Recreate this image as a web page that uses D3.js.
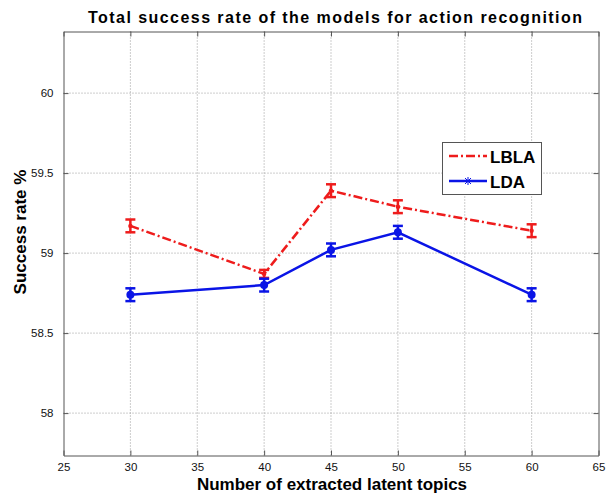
<!DOCTYPE html>
<html>
<head>
<meta charset="utf-8">
<script src="https://cdn.jsdelivr.net/npm/d3@7"></script>
<style>
  html, body { margin: 0; padding: 0; background: #fff; }
  svg { display: block; font-family: "Liberation Sans", Arial, sans-serif; }
</style>
</head>
<body>
<svg id="chart" width="606" height="494"></svg>
<script>
// Number of latent topics evaluated
const topics = [30, 40, 45, 50, 60];
// Mean success rate (%) and error half-width per model
const lblaRate = [59.17, 58.87, 59.39, 59.29, 59.14];
const lblaErr  = [0.04, 0.025, 0.04, 0.04, 0.04];
const ldaRate  = [58.74, 58.80, 59.02, 59.13, 58.74];
const ldaErr   = [0.04, 0.04, 0.04, 0.04, 0.04];
const seriesNames = ["LBLA", "LDA"];
const xTicks = [25, 30, 35, 40, 45, 50, 55, 60, 65];
const yTicks = [58, 58.5, 59, 59.5, 60];

const svg = d3.select("#chart");
const plotL = 63.5, plotR = 598.5, plotT = 31.5, plotB = 455.5;

const x = d3.scaleLinear().domain([25, 65]).range([plotL, plotR]);
const y = d3.scaleLinear().domain([57.735, 60.385]).range([plotB, plotT]);

const axisColor = "#555";

// dotted grid
const grid = svg.append("g");
grid.selectAll("line.gx").data(xTicks.slice(1, -1)).join("line")
  .attr("x1", d => x(d)).attr("x2", d => x(d))
  .attr("y1", plotT).attr("y2", plotB)
  .attr("stroke", "#9a9a9a").attr("stroke-width", 1).attr("stroke-dasharray", "1,2");
grid.selectAll("line.gy").data(yTicks).join("line")
  .attr("x1", plotL).attr("x2", plotR)
  .attr("y1", d => y(d)).attr("y2", d => y(d))
  .attr("stroke", "#9a9a9a").attr("stroke-width", 1).attr("stroke-dasharray", "1,2");

// axes with inward ticks on all four sides
function styleAxis(g) {
  g.select(".domain").attr("stroke", axisColor);
  g.selectAll(".tick line").attr("stroke", axisColor);
  g.selectAll(".tick text").attr("fill", "#111").attr("font-size", 11.5);
}
svg.append("g").attr("transform", `translate(0,${plotB})`)
  .call(d3.axisBottom(x).tickValues(xTicks).tickFormat(d3.format("d")).tickSizeInner(-5).tickSizeOuter(0).tickPadding(7))
  .call(styleAxis);
svg.append("g").attr("transform", `translate(0,${plotT})`)
  .call(d3.axisTop(x).tickValues(xTicks).tickFormat("").tickSizeInner(-5).tickSizeOuter(0))
  .call(styleAxis);
svg.append("g").attr("transform", `translate(${plotL},0)`)
  .call(d3.axisLeft(y).tickValues(yTicks).tickFormat(d3.format("")).tickSizeInner(-5).tickSizeOuter(0).tickPadding(10))
  .call(styleAxis);
svg.append("g").attr("transform", `translate(${plotR},0)`)
  .call(d3.axisRight(y).tickValues(yTicks).tickFormat("").tickSizeInner(-5).tickSizeOuter(0))
  .call(styleAxis);

// series
const series = [
  { name: seriesNames[0], vals: lblaRate, errs: lblaErr, color: "#ee1c1c", dash: "9,3,2,3", marker: 2.2 },
  { name: seriesNames[1], vals: ldaRate,  errs: ldaErr,  color: "#0a14e6", dash: null,      marker: 4 }
];

const line = d3.line().x(d => x(d[0])).y(d => y(d[1]));

series.forEach(s => {
  const pts = topics.map((t, i) => [t, s.vals[i], s.errs[i]]);
  const g = svg.append("g");
  g.append("path").datum(pts).attr("d", line)
    .attr("fill", "none").attr("stroke", s.color).attr("stroke-width", 2.5)
    .attr("stroke-dasharray", s.dash);
  const eb = g.selectAll("g.eb").data(pts).join("g");
  eb.append("line")
    .attr("x1", d => x(d[0])).attr("x2", d => x(d[0]))
    .attr("y1", d => y(d[1] - d[2])).attr("y2", d => y(d[1] + d[2]))
    .attr("stroke", s.color).attr("stroke-width", 2.5);
  [-1, 1].forEach(sgn => {
    eb.append("line")
      .attr("x1", d => x(d[0]) - 5).attr("x2", d => x(d[0]) + 5)
      .attr("y1", d => y(d[1] + sgn * d[2])).attr("y2", d => y(d[1] + sgn * d[2]))
      .attr("stroke", s.color).attr("stroke-width", 2.5);
  });
  eb.append("circle")
    .attr("cx", d => x(d[0])).attr("cy", d => y(d[1])).attr("r", s.marker)
    .attr("fill", s.color);
});

// legend
const lg = svg.append("g");
lg.append("rect").attr("x", 442.5).attr("y", 142.5).attr("width", 99).attr("height", 52)
  .attr("fill", "#fff").attr("stroke", axisColor).attr("stroke-width", 1);
series.forEach((s, i) => {
  const ly = 156 + i * 25;
  lg.append("line").attr("x1", 449).attr("x2", 487).attr("y1", ly).attr("y2", ly)
    .attr("stroke", s.color).attr("stroke-width", 2.5).attr("stroke-dasharray", s.dash);
  if (i === 1) {
    lg.append("path").attr("d", `M468,${ly-4}V${ly+4}M464,${ly}H472M465,${ly-3}L471,${ly+3}M465,${ly+3}L471,${ly-3}`)
      .attr("stroke", s.color).attr("stroke-width", 1);
  }
  lg.append("text").attr("x", 490).attr("y", ly + 6.5).text(s.name)
    .attr("font-size", 17).attr("font-weight", "bold").attr("fill", "#000");
});

// titles
svg.append("text").attr("x", 88).attr("y", 23)
  .attr("font-size", 16).attr("font-weight", "bold").attr("fill", "#000")
  .attr("textLength", 494).attr("lengthAdjust", "spacing")
  .text("Total success rate of the models for action recognition");
svg.append("text").attr("x", 332).attr("y", 490).attr("text-anchor", "middle")
  .attr("font-size", 17).attr("font-weight", "bold").attr("fill", "#000")
  .text("Number of extracted latent topics");
svg.append("text").attr("transform", `translate(26,232) rotate(-90)`)
  .attr("text-anchor", "middle")
  .attr("font-size", 17).attr("font-weight", "bold").attr("fill", "#000")
  .text("Success rate %");
</script>
</body>
</html>
